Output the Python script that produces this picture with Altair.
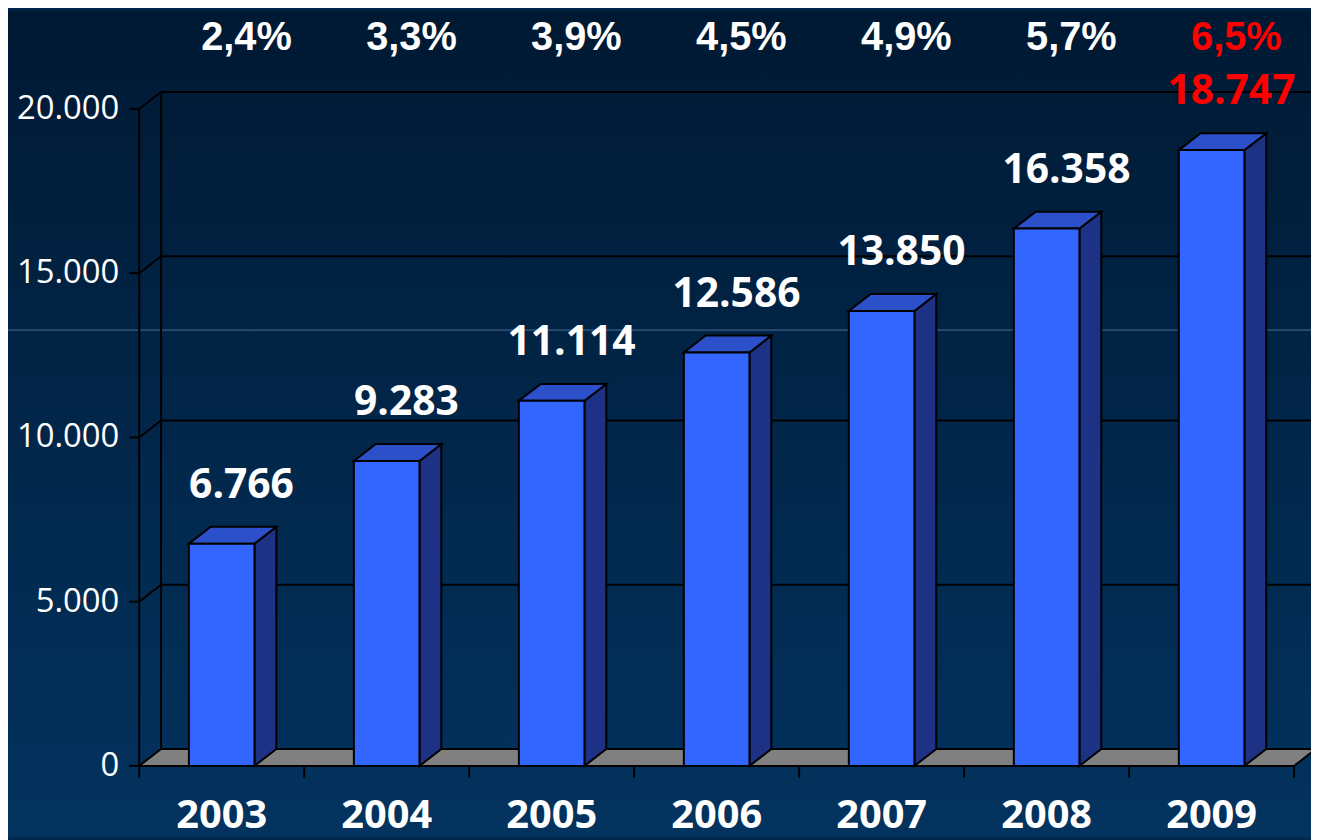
import altair as alt
import pandas as pd

# ---- data ----
years = ["2003", "2004", "2005", "2006", "2007", "2008", "2009"]
values = [6766, 9283, 11114, 12586, 13850, 16358, 18747]
shares = ["2,4%", "3,3%", "3,9%", "4,5%", "4,9%", "5,7%", "6,5%"]
highlight = [False, False, False, False, False, False, True]
y_ticks = [0, 5000, 10000, 15000, 20000]

# ---- geometry / style ----
W, H = 1162, 661
PAD = {"left": 132, "top": 99, "right": 17, "bottom": 72}
N = len(years)
YMAX = 20000
BAR_OFF, BAR_W = 50 / 166, 66 / 166
DX = 22 / 166             # depth offset in category units
DY = 17 / H * YMAX        # depth offset in value units

FRONT = "#3366FF"
TOP = "#2B50C9"
SIDE = "#1D3185"
FLOOR = "#808080"

rows, side, top = [], [], []
for i, (yr, v, s, h) in enumerate(zip(years, values, shares, highlight)):
    x0 = i + BAR_OFF
    x1 = x0 + BAR_W
    rows.append(dict(year=yr, value=v, share=s, hl=h, x0=x0, x1=x1,
                     cx=(x0 + x1) / 2,
                     label=f"{v:,}".replace(",", ".")))
    side.append(dict(year=yr, sx=x1, sy=v, sy2=0))
    side.append(dict(year=yr, sx=x1 + DX, sy=v + DY, sy2=DY))
    top.append(dict(year=yr, ty=v, tx=x0, tx2=x1))
    top.append(dict(year=yr, ty=v + DY, tx=x0 + DX, tx2=x1 + DX))
bars = pd.DataFrame(rows)
bars["vx"] = bars["cx"] + 0.12
bars["px"] = bars["cx"] + 0.15
side = pd.DataFrame(side)
top = pd.DataFrame(top)
floor = pd.DataFrame([dict(fy=0, fx=0, fx2=N), dict(fy=DY, fx=DX, fx2=N + DX)])
grid = pd.DataFrame([dict(t=t, gx=DX, gx2=N + DX, gy=t + DY, dx0=0, dx1=DX)
                     for t in y_ticks[1:]])
yt = pd.DataFrame({"t": y_ticks,
                   "lab": [f"{t:,}".replace(",", ".") for t in y_ticks]})
xt = pd.DataFrame({"k": list(range(N + 1))})
wall = pd.DataFrame([dict(wx=DX, wy=DY, wy2=YMAX + DY, fx=0, fy=0, fy2=YMAX, ex=N)])

xs = alt.Scale(domain=[0, N], nice=False, zero=False)
ys = alt.Scale(domain=[0, YMAX], nice=False, zero=False)


def X(f, **kw):
    return alt.X(f, scale=xs, axis=None, title=None, **kw)


def Y(f, **kw):
    return alt.Y(f, scale=ys, axis=None, title=None, **kw)


one = pd.DataFrame({"a": [0]})
gradient = alt.LinearGradient(
    gradient="linear",
    stops=[alt.GradientStop(color="#001933", offset=0),
           alt.GradientStop(color="#03335F", offset=1)],
    x1=0, x2=0, y1=0, y2=1)

bg = alt.Chart(one).mark_rect(fill=gradient, strokeWidth=0).encode(
    x=alt.value(-PAD["left"]), x2=alt.value(W + PAD["right"]),
    y=alt.value(-PAD["top"]), y2=alt.value(H + PAD["bottom"]))

streak = alt.Chart(one).mark_rule(color="#4D6E98", strokeWidth=1).encode(
    x=alt.value(-PAD["left"]), x2=alt.value(W + PAD["right"]),
    y=alt.value(222.5))

line = dict(color="black", strokeWidth=2)

wall_line = alt.Chart(wall).mark_rule(**line).encode(
    x=X("wx:Q"), y=Y("wy:Q"), y2="wy2:Q")

front_axis = alt.Chart(wall).mark_rule(**line).encode(
    x=X("fx:Q"), y=Y("fy:Q"), y2="fy2:Q")

bottom_axis = alt.Chart(wall).mark_rule(**line).encode(
    x=X("fx:Q"), x2="ex:Q", y=Y("fy:Q"))

grid_h = alt.Chart(grid).mark_rule(**line).encode(
    x=X("gx:Q"), x2="gx2:Q", y=Y("gy:Q"))

grid_d = alt.Chart(grid).mark_rule(**line).encode(
    x=X("dx0:Q"), x2="dx1:Q", y=Y("t:Q"), y2="gy:Q")

ytick = alt.Chart(yt).mark_rule(**line).encode(
    x=alt.value(-10), x2=alt.value(0), y=Y("t:Q"))

ylab = alt.Chart(yt).mark_text(font="Open Sans", fontSize=33, color="white",
                               align="right", baseline="middle").encode(
    x=alt.value(-20), y=Y("t:Q"), text="lab:N")

xtick = alt.Chart(xt).mark_rule(**line).encode(
    x=X("k:Q"), y=alt.value(H), y2=alt.value(H + 12))

floor_l = alt.Chart(floor).mark_area(orient="horizontal", fill=FLOOR,
                                     stroke="black", strokeWidth=2).encode(
    x=X("fx:Q", stack=None), x2="fx2:Q", y=Y("fy:Q"))

side_l = alt.Chart(side).mark_area(fill=SIDE, stroke="black", strokeWidth=2).encode(
    x=X("sx:Q"), y=Y("sy:Q", stack=None), y2="sy2:Q", detail="year:N")

top_l = alt.Chart(top).mark_area(orient="horizontal", fill=TOP, stroke="black",
                                 strokeWidth=2).encode(
    x=X("tx:Q", stack=None), x2="tx2:Q", y=Y("ty:Q"), detail="year:N")

front_l = alt.Chart(bars).mark_rect(fill=FRONT, stroke="black", strokeWidth=2).encode(
    x=X("x0:Q"), x2="x1:Q", y=Y("value:Q"), y2=alt.datum(0))

color_cond = alt.condition("datum.hl", alt.value("#FF0000"), alt.value("white"))

val_l = alt.Chart(bars).mark_text(font="Open Sans", fontWeight="bold",
                                  fontSize=41, baseline="alphabetic",
                                  align="center", dy=-46).encode(
    x=X("vx:Q"), y=Y("value:Q"), text="label:N", color=color_cond)

share_l = alt.Chart(bars).mark_text(font="Liberation Sans", fontWeight="bold",
                                    fontSize=40, baseline="alphabetic",
                                    align="center").encode(
    x=X("px:Q"), y=alt.value(-59), text="share:N", color=color_cond)

year_l = alt.Chart(bars).mark_text(font="Open Sans", fontWeight="bold",
                                   fontSize=40, baseline="alphabetic",
                                   align="center", color="white").encode(
    x=X("cx:Q"), y=alt.value(H + 62), text="year:N")

chart = alt.layer(
    bg, streak, floor_l, wall_line, grid_h, grid_d, front_axis, bottom_axis,
    ytick, ylab, xtick, side_l, top_l, front_l, val_l, share_l, year_l
).properties(
    width=W, height=H,
    autosize=alt.AutoSizeParams(type="none"),
    padding=PAD,
    background="#01264B",
).configure_view(strokeWidth=0)

chart.save("out.html", embed_options={"renderer": "svg", "actions": False})
